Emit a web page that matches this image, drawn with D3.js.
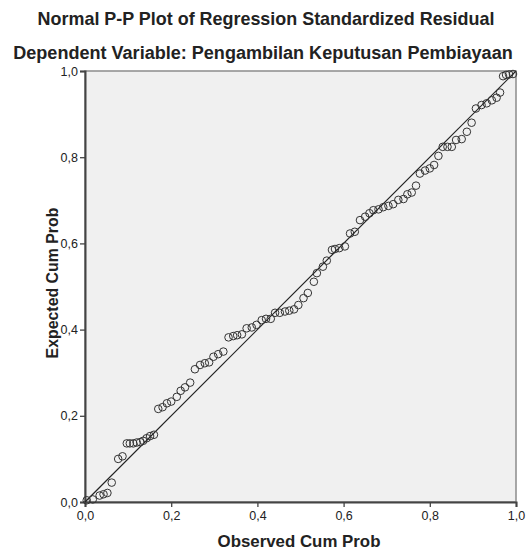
<!DOCTYPE html>
<html>
<head>
<meta charset="utf-8">
<script src="https://cdn.jsdelivr.net/npm/d3@7"></script>
<style>
  body { margin: 0; background: #fff; }
  text { font-family: "Liberation Sans", Arial, sans-serif; fill: #222; }
</style>
</head>
<body>
<div id="graph"></div>
<script>
// values
const observed = [0.004, 0.018, 0.034, 0.043, 0.052, 0.062, 0.077, 0.087,
  0.097, 0.104, 0.112, 0.120, 0.128, 0.135, 0.143, 0.151, 0.160,
  0.170, 0.180, 0.190, 0.200, 0.213, 0.222, 0.232, 0.244,
  0.255, 0.267, 0.278, 0.288, 0.298, 0.309, 0.321,
  0.333, 0.344, 0.353, 0.364, 0.375, 0.387, 0.398, 0.410, 0.420, 0.431,
  0.441, 0.452, 0.464, 0.474, 0.485, 0.495, 0.507, 0.517, 0.531, 0.538, 0.552, 0.561, 0.573, 0.580, 0.590, 0.603,
  0.615, 0.626,
  0.638, 0.650, 0.660, 0.669, 0.681, 0.692, 0.704, 0.715, 0.727, 0.739, 0.748, 0.758, 0.768,
  0.777, 0.789, 0.800, 0.810, 0.820,
  0.830, 0.841, 0.851, 0.861, 0.874, 0.886, 0.897,
  0.907, 0.920, 0.932, 0.944, 0.955, 0.963,
  0.970, 0.977, 0.984, 0.993];
const expected = [0.004, 0.006, 0.015, 0.018, 0.021, 0.045, 0.100, 0.106,
  0.136, 0.136, 0.136, 0.138, 0.139, 0.142, 0.148, 0.153, 0.156,
  0.216, 0.220, 0.229, 0.233, 0.244, 0.258, 0.266, 0.277,
  0.308, 0.318, 0.322, 0.324, 0.337, 0.343, 0.349,
  0.382, 0.385, 0.387, 0.389, 0.403, 0.405, 0.411, 0.422, 0.425, 0.425,
  0.439, 0.439, 0.442, 0.444, 0.447, 0.457, 0.473, 0.485, 0.511, 0.531, 0.546, 0.560, 0.585, 0.587, 0.589, 0.593,
  0.623, 0.627,
  0.654, 0.662, 0.670, 0.677, 0.679, 0.684, 0.687, 0.691, 0.701, 0.703, 0.714, 0.718, 0.734,
  0.762, 0.769, 0.774, 0.782, 0.803,
  0.824, 0.824, 0.824, 0.840, 0.842, 0.859, 0.880,
  0.913, 0.921, 0.925, 0.932, 0.938, 0.950,
  0.988, 0.991, 0.992, 0.993];
const ticks = [0, 0.2, 0.4, 0.6, 0.8, 1.0];
const tickLabels = ["0,0", "0,2", "0,4", "0,6", "0,8", "1,0"];
const title = "Normal P-P Plot of Regression Standardized Residual";
const subtitle = "Dependent Variable: Pengambilan Keputusan Pembiayaan";

const W = 527, H = 553;
const L = 85, R = 516, T = 71, B = 502;

const svg = d3.select("#graph").append("svg").attr("width", W).attr("height", H);

const x = d3.scaleLinear().domain([0, 1]).range([L, R]);
const y = d3.scaleLinear().domain([0, 1]).range([B, T]);

/* plot background */
svg.append("rect").attr("x", L).attr("y", T).attr("width", R - L).attr("height", B - T)
  .attr("fill", "#f0f0f0").attr("stroke", "#8c8c8c").attr("stroke-width", 1.5);

/* axes */
const fmt = d => tickLabels[ticks.indexOf(d)];
const xAxis = svg.append("g").attr("transform", "translate(0," + B + ")")
  .call(d3.axisBottom(x).tickValues(ticks).tickFormat(fmt).tickSize(5).tickPadding(4));
const yAxis = svg.append("g").attr("transform", "translate(" + L + ",0)")
  .call(d3.axisLeft(y).tickValues(ticks).tickFormat(fmt).tickSize(5).tickPadding(2));
[xAxis, yAxis].forEach(g => {
  g.select(".domain").attr("stroke", "#444").attr("stroke-width", 2);
  g.selectAll(".tick line").attr("stroke", "#444").attr("stroke-width", 1.3);
  g.selectAll("text").style("font-size", "12.5px").attr("fill", "#333");
});

/* reference line */
svg.append("line").attr("x1", x(0)).attr("y1", y(0)).attr("x2", x(1)).attr("y2", y(1))
  .attr("stroke", "#222").attr("stroke-width", 1.2);

/* points */
svg.selectAll("circle.pt").data(observed).enter().append("circle")
  .attr("class", "pt")
  .attr("cx", d => x(d))
  .attr("cy", (d, i) => y(expected[i]))
  .attr("r", 3.8)
  .attr("fill", "none")
  .attr("stroke", "#333")
  .attr("stroke-width", 1);

/* titles, sized so their width matches the reference */
function label(txt, tx, ty, width, rot) {
  const t = svg.append("text")
    .attr("transform", "translate(" + tx + "," + ty + ")" + (rot ? " rotate(-90)" : ""))
    .attr("text-anchor", "middle")
    .style("font-size", "14px").style("font-weight", "bold").text(txt);
  const w = t.node().getComputedTextLength();
  t.style("font-size", (14 * width / w) + "px");
}
label(title, 266, 25, 457);
label(subtitle, 263, 59, 500);
label("Observed Cum Prob", 299, 547, 163);
label("Expected Cum Prob", 58, 283, 151, true);
</script>
</body>
</html>
